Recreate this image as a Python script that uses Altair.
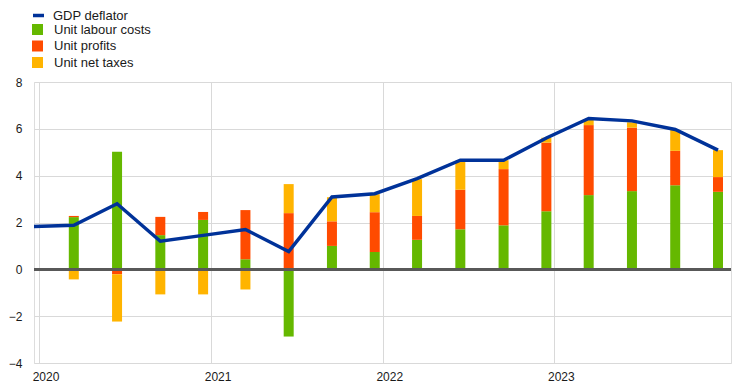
import altair as alt
import pandas as pd

# Quarter positions (bars are drawn near the end of each quarter)
quarters = ["2020-03-15", "2020-06-15", "2020-09-15", "2020-12-15",
            "2021-03-15", "2021-06-15", "2021-09-15", "2021-12-15",
            "2022-03-15", "2022-06-15", "2022-09-15", "2022-12-15",
            "2023-03-15", "2023-06-15", "2023-09-15", "2023-12-15"]

labour = [2.23, 5.02, 1.46, 2.11, 0.43, -2.87, 1.00, 0.74,
          1.26, 1.71, 1.88, 2.48, 3.17, 3.34, 3.59, 3.31]
profits = [0.05, -0.21, 0.78, 0.34, 2.10, 2.40, 1.05, 1.70,
           1.02, 1.69, 2.40, 2.93, 2.99, 2.71, 1.47, 0.63]
taxes = [-0.43, -2.02, -1.07, -1.07, -0.86, 1.24, 1.03, 0.77,
         1.57, 1.24, 0.38, 0.21, 0.22, 0.23, 0.89, 1.15]

deflator_dates = ["2019-12-15"] + quarters
deflator = [1.83, 1.88, 2.80, 1.20, 1.45, 1.70, 0.76, 3.09, 3.23,
            3.87, 4.66, 4.66, 5.61, 6.44, 6.34, 5.97, 5.09]

series_names = ["Unit labour costs", "Unit profits", "Unit net taxes"]
bar_colors = ["#65b800", "#ff4b00", "#ffb400"]
line_name = "GDP deflator"
line_color = "#003299"

year_ticks = [2020, 2021, 2022, 2023]
y_ticks = [-4, -2, 0, 2, 4, 6, 8]

rows = []
for i, d in enumerate(quarters):
    for k, (name, vals) in enumerate(zip(series_names, [labour, profits, taxes])):
        rows.append({"date": d, "series": name, "value": vals[i], "ord": k})
bars_df = pd.DataFrame(rows)
line_df = pd.DataFrame({"date": deflator_dates, "value": deflator,
                        "series": [line_name] * len(deflator)})
years_df = pd.DataFrame({"date": [f"{y}-01-01" for y in year_ticks],
                         "label": [str(y) for y in year_ticks]})

FONT = "Arial"
TXT = "#1a1a1a"
GRID = "#d9d9d9"
H = 281

x_scale = alt.Scale(type="utc", domain=[alt.DateTime(year=2020, month=1, date=1, utc=True),
                                         alt.DateTime(year=2024, month=1, date=1, utc=True)])
y_scale = alt.Scale(domain=[-4, 8], nice=False)

x_axis = alt.Axis(values=[alt.DateTime(year=y, month=1, date=1, utc=True) for y in year_ticks],
                  title=None, grid=True, gridColor=GRID, gridWidth=1,
                  domain=False, ticks=False, labels=False)
y_axis = alt.Axis(values=y_ticks, title=None, grid=True, gridColor=GRID, gridWidth=1,
                  domain=False, ticks=False, labelPadding=12, labelFont=FONT,
                  labelFontSize=12, labelColor=TXT)

bars = alt.Chart(bars_df).mark_bar(size=10).encode(
    x=alt.X("date:T", scale=x_scale, axis=x_axis),
    y=alt.Y("value:Q", scale=y_scale, axis=y_axis, stack="zero"),
    color=alt.Color("series:N",
                    scale=alt.Scale(domain=series_names, range=bar_colors),
                    legend=alt.Legend(title=None, orient="none", legendX=-3, legendY=-59,
                                      symbolType="square", symbolSize=121, symbolStrokeWidth=0,
                                      labelFont=FONT, labelFontSize=13, labelColor=TXT,
                                      rowPadding=2.5, labelOffset=10, padding=0,
                                      direction="vertical")),
    order=alt.Order("ord:Q"),
)

zero = alt.Chart(bars_df).mark_rule(color="#595959", strokeWidth=2).encode(
    y=alt.datum(0)
)

line = alt.Chart(line_df).mark_line(strokeWidth=3.5, clip=True).encode(
    x=alt.X("date:T", scale=x_scale),
    y=alt.Y("value:Q", scale=y_scale),
    stroke=alt.Stroke("series:N",
                      scale=alt.Scale(domain=[line_name], range=[line_color]),
                      legend=alt.Legend(title=None, orient="none", legendX=-3, legendY=-74,
                                        symbolType="stroke", symbolSize=121,
                                        symbolStrokeWidth=3.5,
                                        labelFont=FONT, labelFontSize=13, labelColor=TXT,
                                        labelOffset=7, padding=0)),
)

year_labels = alt.Chart(years_df).mark_text(
    font=FONT, fontSize=12, color=TXT, align="center", baseline="middle", dx=7
).encode(
    x=alt.X("date:T", scale=x_scale),
    y=alt.value(H + 14),
    text="label:N",
)

chart = alt.layer(bars, zero, line, year_labels).resolve_scale(color="independent").properties(
    width=697, height=H,
    autosize=alt.AutoSizeParams(type="none"),
    padding={"left": 26, "top": 74, "right": 5, "bottom": 20},
).configure_view(stroke=GRID, strokeWidth=1).configure(background="white")

chart.save("out.html", embed_options={"renderer": "svg", "actions": False})
